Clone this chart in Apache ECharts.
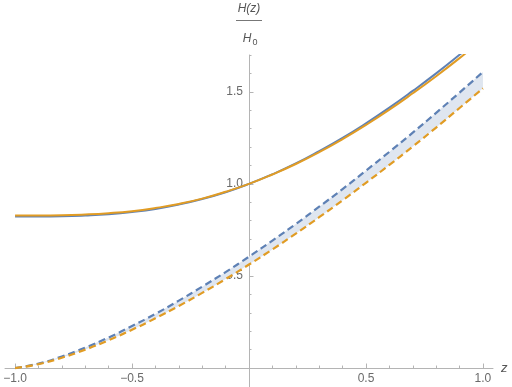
<!DOCTYPE html>
<html>
<head>
<meta charset="utf-8">
<script src="https://cdn.jsdelivr.net/npm/echarts@6/dist/echarts.min.js"></script>
<style>
  html, body { margin: 0; padding: 0; background: #fff; }
  #chart { width: 512px; height: 387px; }
</style>
</head>
<body>
<div id="chart"></div>
<script>
// z samples and curves
const zValues = [-1, -0.9, -0.8, -0.7, -0.6, -0.5, -0.4, -0.3, -0.2, -0.1, 0,
                 0.1, 0.2, 0.3, 0.4, 0.5, 0.6, 0.7, 0.8, 0.9, 1];
const solidBlue = [0.823, 0.823, 0.824, 0.828, 0.835, 0.847, 0.864, 0.888, 0.918, 0.955, 1.000,
                   1.052, 1.111, 1.178, 1.250, 1.329, 1.414, 1.505, 1.600, 1.701, 1.806];
const solidOrange = [0.829, 0.829, 0.830, 0.834, 0.841, 0.852, 0.869, 0.891, 0.920, 0.957, 1.000,
                     1.051, 1.108, 1.172, 1.243, 1.320, 1.403, 1.492, 1.585, 1.683, 1.786];
const dashedBlue = [0, 0.024, 0.063, 0.111, 0.166, 0.228, 0.294, 0.366, 0.442, 0.521, 0.605,
                    0.692, 0.782, 0.876, 0.972, 1.072, 1.174, 1.278, 1.386, 1.496, 1.608];
const dashedOrange = [0, 0.021, 0.056, 0.100, 0.151, 0.208, 0.270, 0.337, 0.408, 0.483, 0.562,
                      0.644, 0.730, 0.819, 0.911, 1.006, 1.103, 1.203, 1.306, 1.412, 1.519];

// ticks
const xMajorTicks = [-1, -0.5, 0.5, 1];
const xMinorTicks = [-1, -0.9, -0.8, -0.7, -0.6, -0.5, -0.4, -0.3, -0.2, -0.1,
                     0.1, 0.2, 0.3, 0.4, 0.5, 0.6, 0.7, 0.8, 0.9, 1];
const yMajorTicks = [0.5, 1, 1.5];
const yMinorTicks = [0.1, 0.2, 0.3, 0.4, 0.5, 0.6, 0.7, 0.8, 0.9, 1,
                     1.1, 1.2, 1.3, 1.4, 1.5, 1.6, 1.7];

const BLUE = '#5e81b5';
const ORANGE = '#e19c24';
const BAND = '#dfe6f0';
const AXIS = '#b4b4b4';
const LABEL = '#6a6a6a';
const FONT = '"Liberation Sans", "DejaVu Sans", sans-serif';

const pairs = ys => zValues.map((z, i) => [z, ys[i]]);
const fmt = v => (v < 0 ? '\u2212' : '') + Math.abs(v).toFixed(1);

const W = 512, H = 387;
const grid = { left: 5, right: 19, top: 55, bottom: 0 };
const xRange = { min: -1.043, max: 1.043 };
const yRange = { min: -0.103, max: 1.70 };

// axes cross at the origin, like Mathematica's Axes -> True
const gridW = W - grid.left - grid.right;
const gridH = H - grid.top - grid.bottom;
const yAxisOffset = -gridW * (0 - xRange.min) / (xRange.max - xRange.min);
const xAxisOffset = -gridH * (0 - yRange.min) / (yRange.max - yRange.min);

// shaded region between the two dashed curves
function renderBand(params, api) {
    if (params.dataIndex !== 0) return;
    const upper = zValues.map((z, i) => api.coord([z, dashedBlue[i]]));
    const lower = zValues.map((z, i) => api.coord([z, dashedOrange[i]])).reverse();
    return {
        type: 'polygon',
        shape: { points: upper.concat(lower) },
        style: { fill: BAND, stroke: null }
    };
}

const chart = echarts.init(document.getElementById('chart'));

chart.setOption({
    animation: false,
    backgroundColor: '#fff',
    grid: grid,
    xAxis: [{
        type: 'value', ...xRange, position: 'bottom', offset: xAxisOffset,
        axisLine: { onZero: false, lineStyle: { color: AXIS, width: 1 } },
        axisTick: { inside: true, length: 2.5, customValues: xMinorTicks, lineStyle: { color: AXIS } },
        axisLabel: { show: false },
        splitLine: { show: false },
        name: 'z', nameLocation: 'end', nameGap: 8,
        nameTextStyle: { color: '#555', fontStyle: 'italic', fontSize: 13, fontFamily: FONT, verticalAlign: 'middle' }
    }, {
        type: 'value', ...xRange, position: 'bottom', offset: xAxisOffset,
        axisLine: { show: false, onZero: false },
        axisTick: { inside: true, length: 4.5, customValues: xMajorTicks, lineStyle: { color: AXIS } },
        axisLabel: { customValues: xMajorTicks, formatter: fmt, color: LABEL, fontSize: 12, fontFamily: FONT, margin: 5 },
        splitLine: { show: false }
    }],
    yAxis: [{
        type: 'value', ...yRange, position: 'left', offset: yAxisOffset,
        axisLine: { show: true, onZero: false, lineStyle: { color: AXIS, width: 1 } },
        axisTick: { show: true, inside: true, length: 2.5, customValues: yMinorTicks, lineStyle: { color: AXIS } },
        axisLabel: { show: false },
        splitLine: { show: false }
    }, {
        type: 'value', ...yRange, position: 'left', offset: yAxisOffset,
        axisLine: { show: false, onZero: false },
        axisTick: { show: true, inside: true, length: 4.5, customValues: yMajorTicks, lineStyle: { color: AXIS } },
        axisLabel: { customValues: yMajorTicks, formatter: fmt, color: LABEL, fontSize: 12, fontFamily: FONT, margin: 6 },
        splitLine: { show: false }
    }],
    graphic: [
        { type: 'text', x: 249, y: 9, style: { text: 'H(z)', font: 'italic 12px ' + FONT, fill: '#555', align: 'center', verticalAlign: 'middle' } },
        { type: 'line', shape: { x1: 236, y1: 20.5, x2: 262, y2: 20.5 }, style: { stroke: '#777', lineWidth: 1 } },
        { type: 'text', x: 247, y: 39, style: { text: 'H', font: 'italic 12px ' + FONT, fill: '#555', align: 'center', verticalAlign: 'middle' } },
        { type: 'text', x: 255, y: 43, style: { text: '0', font: '9px ' + FONT, fill: '#555', align: 'center', verticalAlign: 'middle' } }
    ],
    series: [
        {
            type: 'custom', renderItem: renderBand, data: [0], silent: true, z: 1,
            clip: true, encode: { x: -1, y: -1 }
        },
        {
            type: 'line', data: pairs(dashedBlue), smooth: true, symbol: 'none', z: 3,
            lineStyle: { color: BLUE, width: 2.2, type: [7, 4] }
        },
        {
            type: 'line', data: pairs(dashedOrange), smooth: true, symbol: 'none', z: 3,
            lineStyle: { color: ORANGE, width: 2.2, type: [7, 4] }
        },
        {
            type: 'line', data: pairs(solidBlue), smooth: true, symbol: 'none', z: 4,
            lineStyle: { color: BLUE, width: 2 }
        },
        {
            type: 'line', data: pairs(solidOrange), smooth: true, symbol: 'none', z: 4,
            lineStyle: { color: ORANGE, width: 2 }
        }
    ]
});
</script>
</body>
</html>
